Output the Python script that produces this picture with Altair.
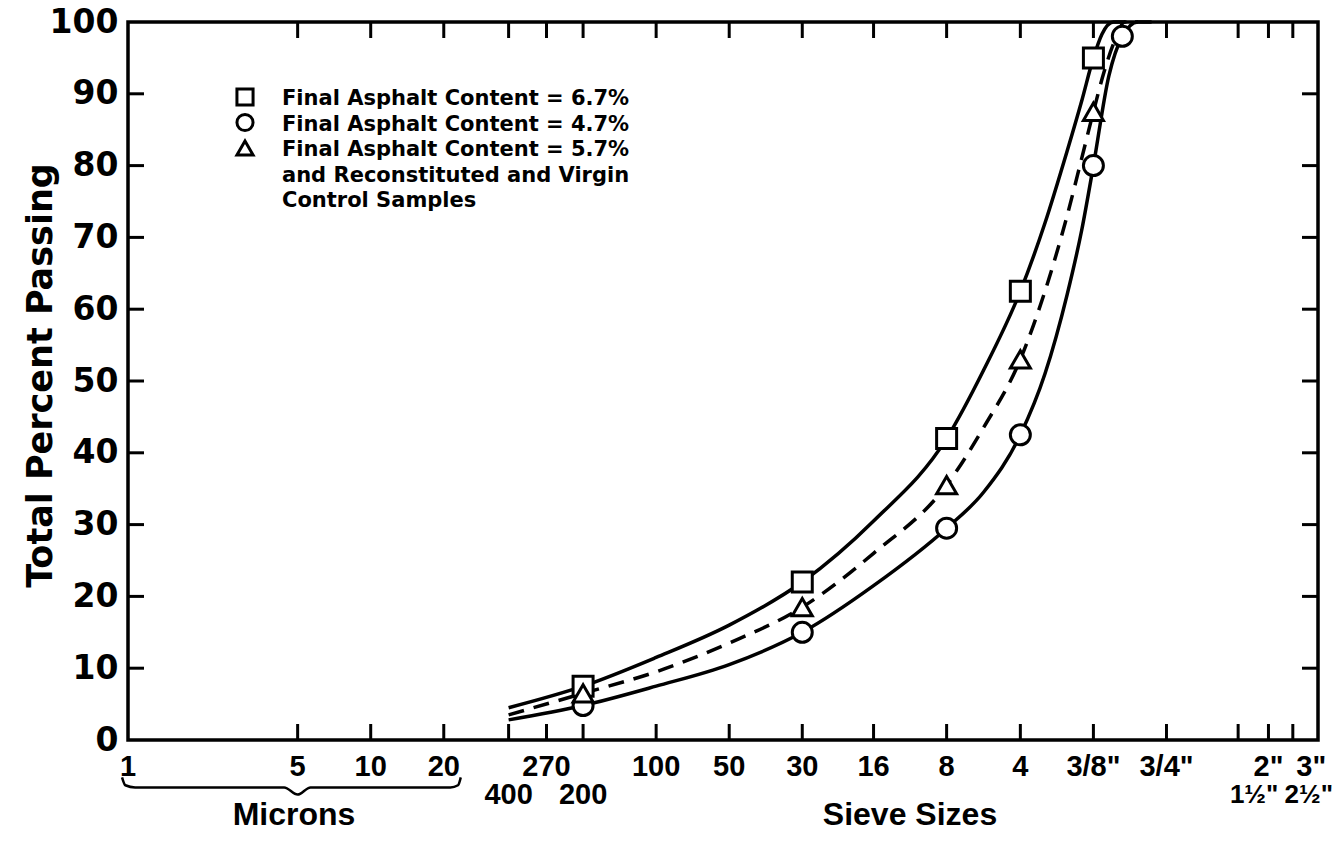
import altair as alt
import pandas as pd

# ---------------- data ----------------
series_order = ["6.7%", "4.7%", "5.7%"]
series_shapes = ["square", "circle", "triangle-up"]

# measured points (particle size in microns, percent passing)
sq_pts_x = [75, 600, 2360, 4750, 9500]
sq_pts_y = [7.5, 22, 42, 62.5, 95]
ci_pts_x = [75, 600, 2360, 4750, 9500, 12500]
ci_pts_y = [4.8, 15, 29.5, 42.5, 80, 98]
tr_pts_x = [75, 600, 2360, 4750, 9500]
tr_pts_y = [6.5, 18.5, 35.5, 53, 87.5]

# fitted curves
sq_curve_x = [37, 75, 150, 300, 600, 1180, 2360, 3350, 4750, 6000, 7400, 8500, 9500, 10300, 11500, 13000]
sq_curve_y = [4.5, 7.5, 11.5, 16, 22, 30.5, 42, 51.5, 62.5, 72, 82, 89, 95, 98.3, 100, 100]
tr_curve_x = [37, 75, 150, 300, 600, 1180, 2360, 3350, 4750, 6000, 7400, 8500, 9500, 10500, 11500, 12800, 14500]
tr_curve_y = [3.5, 6.5, 9.5, 13.5, 18.5, 26, 35.5, 43.5, 53, 62.5, 73, 81, 87.5, 93, 97, 100, 100]
ci_curve_x = [37, 75, 150, 300, 600, 1180, 2360, 3350, 4750, 6000, 7400, 8500, 9500, 11000, 12500, 14500, 16500]
ci_curve_y = [2.8, 4.8, 7.5, 10.5, 15, 21.5, 29.5, 34.5, 42.5, 51, 62, 71, 80, 92.5, 98, 100, 100]

# axis ticks (microns) and labels
tick_um = [5, 10, 20, 37, 53, 75, 150, 300, 600, 1180, 2360, 4750, 9500,
           19000, 37500, 50000, 63000]
row1_labels = ["1", "5", "10", "20", "270", "100", "50", "30", "16", "8", "4",
               '3/8"', '3/4"', '2"', '3"']
row1_um = [1, 5, 10, 20, 53, 150, 300, 600, 1180, 2360, 4750, 9500, 19000, 50000, 75000]
row2_mesh_labels = ["400", "200"]
row2_mesh_um = [37, 75]
row2_inch_labels = ['1½"', '2½"']
row2_inch_um = [37500, 63000]
y_ticks = [10, 20, 30, 40, 50, 60, 70, 80, 90]

# brace under the micron range
brace_x = [0.945, 0.975, 1.07, 4.4, 5.0, 5.65, 21.3, 22.9, 23.5]
brace_y = [-5.2, -6.3, -6.6, -6.6, -7.6, -6.6, -6.6, -6.3, -5.2]

legend_lines = ["Final Asphalt Content = 6.7%",
                "Final Asphalt Content = 4.7%",
                "Final Asphalt Content = 5.7%",
                "and Reconstituted and Virgin",
                "Control Samples"]

# ---------------- build tables ----------------
def long(xs, ys, s):
    return pd.DataFrame({"x": xs, "y": ys, "series": s})

solid = pd.concat([long(sq_curve_x, sq_curve_y, "6.7%"),
                   long(ci_curve_x, ci_curve_y, "4.7%")])
dashed = long(tr_curve_x, tr_curve_y, "5.7%")
points = pd.concat([long(sq_pts_x, sq_pts_y, "6.7%"),
                    long(ci_pts_x, ci_pts_y, "4.7%"),
                    long(tr_pts_x, tr_pts_y, "5.7%")])
ticks_df = pd.DataFrame({"x": tick_um})
ytick_df = pd.DataFrame({"y": y_ticks})
row1_df = pd.DataFrame({"x": row1_um, "t": row1_labels})
row2m_df = pd.DataFrame({"x": row2_mesh_um, "t": row2_mesh_labels})
row2i_df = pd.DataFrame({"x": row2_inch_um, "t": row2_inch_labels})
brace_df = pd.DataFrame({"x": brace_x, "y": brace_y})

W, H = 1190, 718
xs = alt.Scale(type="log", domain=[1, 80000], nice=False)
ys = alt.Scale(domain=[0, 100], nice=False)
yaxis = alt.Axis(values=list(range(0, 101, 10)), ticks=False, domain=False,
                 grid=False, labelFont="DejaVu Sans", labelFontWeight="bold",
                 labelFontSize=33, labelColor="black", labelPadding=10,
                 title="Total Percent Passing", titleFont="DejaVu Sans",
                 titleFontWeight="bold", titleFontSize=35, titleColor="black",
                 titleAngle=270, titleX=-88, titleY=353,
                 titleAlign="center", titleBaseline="middle")
X = lambda: alt.X("x:Q", scale=xs, axis=None)
Y = lambda: alt.Y("y:Q", scale=ys, axis=yaxis)

TICK_FONT = "Liberation Sans"

solid_lines = alt.Chart(solid).mark_line(
    color="black", strokeWidth=3.5, interpolate="monotone"
).encode(x=X(), y=Y(), detail="series:N")

dashed_line = alt.Chart(dashed).mark_line(
    color="black", strokeWidth=3.5, interpolate="monotone", strokeDash=[16, 10]
).encode(x=X(), y=Y())

pts = alt.Chart(points).mark_point(
    filled=False, fill="white", fillOpacity=1, stroke="black", strokeWidth=3,
    opacity=1, size=400
).encode(
    x=X(), y=Y(),
    shape=alt.Shape("series:N", scale=alt.Scale(domain=series_order, range=series_shapes),
                    legend=None),
)

# legend drawn as symbols + text block
legend_syms = [
    alt.Chart(pd.DataFrame({"s": [s]})).mark_point(
        shape=shp, filled=False, fill="white", fillOpacity=1, stroke="black",
        strokeWidth=3, opacity=1, size=260
    ).encode(x=alt.value(117), y=alt.value(75 + 25.5 * i))
    for i, (s, shp) in enumerate(zip(series_order, series_shapes))
]
legend_text = alt.Chart(pd.DataFrame({"t": ["\n".join(legend_lines)]})).mark_text(
    align="left", baseline="top", lineBreak="\n", lineHeight=25.5,
    font="DejaVu Sans", fontWeight="bold", fontSize=21, color="black"
).encode(x=alt.value(154), y=alt.value(66), text="t:N")

bot_ticks = alt.Chart(ticks_df).mark_rule(color="black", strokeWidth=3).encode(
    x=X(), y=alt.value(H), y2=alt.value(H - 16))
top_ticks = alt.Chart(ticks_df).mark_rule(color="black", strokeWidth=3).encode(
    x=X(), y=alt.value(0), y2=alt.value(16))
left_ticks = alt.Chart(ytick_df).mark_rule(color="black", strokeWidth=3).encode(
    y=Y(), x=alt.value(0), x2=alt.value(16))
right_ticks = alt.Chart(ytick_df).mark_rule(color="black", strokeWidth=3).encode(
    y=Y(), x=alt.value(W - 16), x2=alt.value(W))

row1 = alt.Chart(row1_df).mark_text(
    font=TICK_FONT, fontWeight="bold", fontSize=29, color="black", baseline="middle"
).encode(x=X(), y=alt.value(H + 27), text="t:N")
row2m = alt.Chart(row2m_df).mark_text(
    font=TICK_FONT, fontWeight="bold", fontSize=29, color="black", baseline="middle"
).encode(x=X(), y=alt.value(H + 55), text="t:N")
row2i = alt.Chart(row2i_df).mark_text(
    font=TICK_FONT, fontWeight="bold", fontSize=26, color="black", baseline="middle", dx=16
).encode(x=X(), y=alt.value(H + 55), text="t:N")

brace = alt.Chart(brace_df).mark_line(
    color="black", strokeWidth=2.5, interpolate="monotone"
).encode(x=X(), y=Y())

microns = alt.Chart(pd.DataFrame({"t": ["Microns"]})).mark_text(
    font="Liberation Sans", fontWeight="bold", fontSize=32, color="black"
).encode(x=alt.value(166), y=alt.value(H + 75), text="t:N")
sieve = alt.Chart(pd.DataFrame({"t": ["Sieve Sizes"]})).mark_text(
    font="Liberation Sans", fontWeight="bold", fontSize=32, color="black"
).encode(x=alt.value(782), y=alt.value(H + 75), text="t:N")

chart = alt.layer(
    solid_lines, dashed_line, pts, bot_ticks, top_ticks, left_ticks, right_ticks,
    row1, row2m, row2i, brace, microns, sieve, legend_text, *legend_syms
).properties(
    width=W, height=H,
    autosize=alt.AutoSizeParams(type="none"),
    padding={"left": 128, "top": 22, "right": 14, "bottom": 101},
    background="white",
).configure_view(stroke="black", strokeWidth=3.5)

chart.save("out.html", embed_options={"renderer": "svg", "actions": False})
